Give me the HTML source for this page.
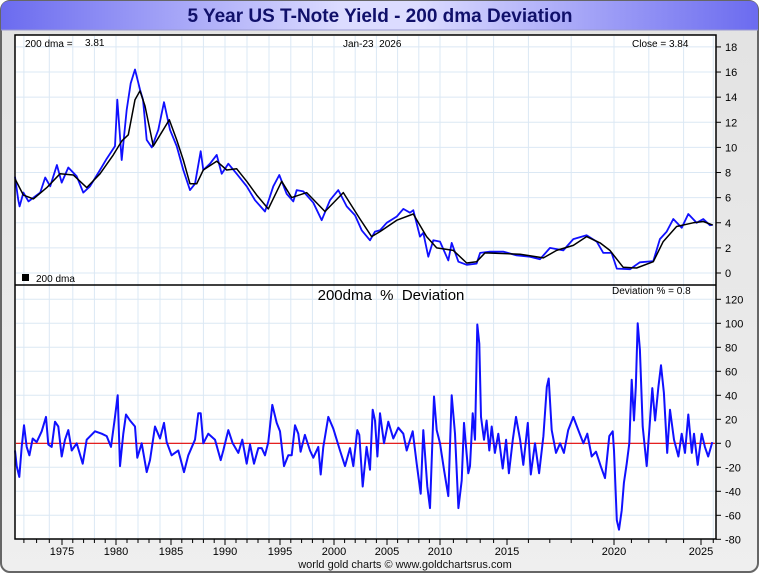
<!DOCTYPE html>
<html><head><meta charset="utf-8"><style>
body{margin:0;background:#fff;}
#wrap{position:relative;width:760px;height:575px;font-family:"Liberation Sans",sans-serif;}
svg text{font-family:"Liberation Sans",sans-serif;white-space:pre;}
</style></head><body>
<div id="wrap">
<svg id="chart" width="760" height="575" xmlns="http://www.w3.org/2000/svg">
<defs>
<linearGradient id="tg" x1="0" x2="1" y1="0" y2="0">
<stop offset="0" stop-color="#6b6bef"/><stop offset="0.45" stop-color="#dcdcff"/><stop offset="0.55" stop-color="#dcdcff"/><stop offset="1" stop-color="#6b6bef"/>
</linearGradient>
<linearGradient id="bg" x1="0" x2="0" y1="0" y2="1">
<stop offset="0" stop-color="#e2e2e2"/><stop offset="1" stop-color="#efefef"/>
</linearGradient>
</defs>
<rect x="1" y="1" width="757" height="571" rx="9" fill="url(#bg)" stroke="#666" stroke-width="2"/>
<path d="M1,30 L1,10 Q1,1 10,1 L749,1 Q758,1 758,10 L758,30 Z" fill="url(#tg)"/>
<line x1="1" y1="30" x2="758" y2="30" stroke="#9a9ad0" stroke-width="1"/>
<text x="380" y="22" text-anchor="middle" font-size="19" font-weight="bold" fill="#10106a">5 Year US T-Note Yield - 200 dma Deviation</text>
<rect x="15" y="35" width="701" height="504" fill="#fff"/>
<g id="grid"></g>
<g id="series"></g>
<rect x="15" y="35" width="701" height="504" fill="none" stroke="#000" stroke-width="1.5"/>
<line x1="15" y1="285" x2="716" y2="285" stroke="#000" stroke-width="1.5"/>
<g id="axes"></g>
<text x="25" y="47" font-size="10">200 dma =</text>
<text x="85" y="46" font-size="10">3.81</text>
<text x="343" y="47" font-size="10">Jan-23  2026</text>
<text x="632" y="47" font-size="10">Close = 3.84</text>
<rect x="22" y="274" width="7" height="7" fill="#000"/>
<text x="36" y="282" font-size="10">200 dma</text>
<text x="391" y="300" text-anchor="middle" font-size="15">200dma  %  Deviation</text>
<text x="612" y="294" font-size="10">Deviation % = 0.8</text>
<text x="405" y="568" text-anchor="middle" font-size="11" fill="#111">world gold charts © www.goldchartsrus.com</text>
</svg>
</div>
<script>
// ---- data ----
const yieldYears=[1971.30,1971.56,1971.66,1971.96,1972.36,1973.28,1973.68,1974.07,1974.60,1974.98,1975.58,1976.36,1976.97,1977.59,1978.52,1979.14,1979.91,1980.12,1980.52,1980.97,1981.34,1981.73,1982.18,1982.45,1982.79,1983.25,1983.85,1984.36,1984.91,1985.53,1986.14,1986.76,1987.22,1987.75,1987.99,1988.61,1989.23,1989.69,1990.30,1991.06,1991.97,1992.73,1993.64,1994.39,1994.94,1995.62,1996.23,1996.55,1997.16,1998.08,1998.86,1999.63,2000.41,2001.20,2001.98,2002.61,2003.40,2003.87,2004.34,2004.97,2005.92,2006.54,2007.17,2007.48,2008.11,2008.42,2008.90,2009.37,2010.00,2010.62,2010.87,2011.37,2011.99,2012.73,2012.99,2013.73,2014.72,2015.45,2016.07,2016.54,2017.01,2017.63,2018.10,2018.72,2019.19,2019.50,2019.89,2020.16,2020.92,2021.49,2022.26,2022.64,2023.03,2023.41,2023.89,2024.27,2024.75,2025.19,2025.73,2025.95];
const yieldValues=[7.67,5.8,5.3,6.4,5.7,6.4,7.6,6.9,8.6,7.2,8.4,7.7,6.4,6.9,8.2,9.1,10.1,13.8,9.0,13.0,15.1,16.2,14.6,13.8,10.6,10.0,11.4,13.6,11.4,10.1,8.2,6.6,7.1,9.7,8.2,8.7,9.4,7.9,8.7,7.9,6.9,5.8,4.9,6.9,7.8,6.3,5.7,6.6,6.5,5.6,4.2,5.8,6.6,5.3,4.6,3.4,2.6,3.3,3.4,4.0,4.5,5.1,4.8,5.0,2.9,3.2,1.3,2.6,2.5,1.0,2.4,0.9,0.65,0.75,1.6,1.7,1.7,1.4,1.3,1.1,2.0,1.8,2.7,3.0,2.5,1.6,1.6,0.35,0.3,0.85,0.95,2.7,3.3,4.3,3.6,4.7,4.0,4.3,3.8,3.84];
const dmaYears=[1971.30,1971.96,1972.75,1973.80,1974.84,1976.05,1977.29,1978.52,1979.75,1980.52,1981.12,1981.73,1982.18,1982.64,1983.39,1984.15,1984.85,1985.53,1986.14,1986.76,1987.38,1987.99,1989.23,1990.15,1991.06,1991.97,1992.88,1993.94,1995.16,1996.08,1997.47,1999.17,2000.88,2002.45,2003.55,2004.34,2005.92,2007.48,2008.74,2009.69,2010.99,2011.99,2012.73,2013.36,2015.61,2016.70,2017.32,2018.10,2018.72,2019.35,2019.81,2020.53,2021.30,2022.26,2022.83,2023.60,2024.55,2025.19,2025.95];
const dmaValues=[7.5,6.2,5.9,6.8,7.9,7.8,6.8,7.9,9.4,10.5,11.0,13.8,14.5,13.3,10.1,11.2,12.2,10.6,9.0,7.1,7.1,8.2,8.9,8.2,8.3,7.3,6.2,5.1,7.3,6.0,6.4,4.9,6.4,4.3,2.9,3.3,4.2,4.7,2.9,2.0,1.8,0.8,0.9,1.6,1.5,1.2,1.8,2.2,2.9,2.4,1.8,0.45,0.4,0.9,2.5,3.7,4.0,4.1,3.81];
const devYears=[1971.30,1971.43,1971.64,1971.83,1972.01,1972.22,1972.43,1972.69,1973.01,1973.40,1973.74,1973.92,1974.19,1974.45,1974.71,1974.98,1975.28,1975.58,1975.90,1976.36,1976.92,1977.29,1978.06,1978.68,1979.14,1979.54,1979.91,1980.15,1980.36,1980.66,1980.91,1981.27,1981.73,1981.94,1982.34,1982.79,1983.09,1983.55,1984.00,1984.36,1984.61,1985.06,1985.68,1986.20,1986.60,1987.22,1987.53,1987.75,1987.99,1988.45,1989.07,1989.60,1989.84,1990.30,1990.70,1991.21,1991.57,1991.97,1992.27,1992.64,1993.03,1993.34,1993.64,1993.94,1994.30,1994.70,1995.00,1995.37,1995.77,1996.08,1996.39,1996.69,1996.91,1997.31,1997.78,1998.08,1998.55,1998.77,1999.01,1999.47,1999.94,2000.57,2001.04,2001.51,2001.82,2002.20,2002.39,2002.71,2003.08,2003.40,2003.65,2003.87,2004.09,2004.34,2004.72,2005.12,2005.59,2006.07,2006.54,2006.86,2007.42,2007.80,2008.18,2008.42,2008.80,2009.06,2009.43,2009.69,2010.00,2010.30,2010.62,2010.87,2011.12,2011.37,2011.62,2011.79,2012.11,2012.24,2012.44,2012.61,2012.78,2012.93,2013.06,2013.28,2013.48,2013.68,2013.86,2014.10,2014.35,2014.68,2014.93,2015.09,2015.27,2015.42,2015.61,2015.76,2015.97,2016.11,2016.31,2016.50,2016.70,2016.86,2016.95,2017.09,2017.29,2017.48,2017.66,2017.86,2018.10,2018.33,2018.57,2018.75,2018.96,2019.16,2019.38,2019.58,2019.78,2019.94,2020.00,2020.16,2020.29,2020.44,2020.57,2020.73,2020.88,2021.02,2021.15,2021.25,2021.36,2021.49,2021.65,2021.88,2022.03,2022.20,2022.36,2022.55,2022.70,2022.87,2023.06,2023.22,2023.45,2023.70,2023.89,2024.08,2024.27,2024.47,2024.60,2024.81,2025.06,2025.32,2025.59,2025.92];
const devValues=[-6,-19,-28,-3,15,-3,-10,4,1,10,22,-1,-3,18,14,-11,3,11,-6,0,-17,3,10,8,6,-3,22,40,-19,8,24,19,14,-12,0,-24,-14,14,4,17,1,-10,-6,-24,-10,3,25,25,0,8,3,-14,-6,11,0,-8,3,-17,-1,-17,-4,-4,-10,1,32,17,10,-19,-10,-10,15,8,-7,7,-6,-12,-3,-26,-3,22,12,-6,-19,-4,-19,11,7,-36,-3,-22,28,19,-11,25,0,18,4,13,8,-6,10,-17,-42,11,-36,-54,39,11,0,-22,-44,40,8,-54,-31,17,-25,-19,25,3,99,83,22,3,19,-6,14,-8,8,-21,3,-25,3,22,3,-18,17,-26,0,-25,6,47,54,11,-8,0,-8,11,22,11,0,8,-11,-7,-19,-29,6,10,-6,-64,-72,-56,-33,-17,0,53,19,47,100,78,14,-19,11,46,19,47,65,42,-8,28,3,-11,8,-8,24,-8,8,-18,8,-3,-11,1];
const xTickLabels=[1975,1980,1985,1990,1995,2000,2005,2010,2015,2020,2025];
const yTicksTop=[0,2,4,6,8,10,12,14,16,18];
const yTicksBottom=[-80,-60,-40,-20,0,20,40,60,80,100,120];

// ---- scales ----
const xAnchorYears=[1971.3,1975,1980,1985,1990,1995,2000,2005,2010,2015,2020,2025,2026.06];
const xAnchorPx=[15,62,116,171,225,280,334,387,440,507,614,701,714];
function xs(yr){
  for(let i=0;i<xAnchorYears.length-1;i++){
    if(yr<=xAnchorYears[i+1]||i===xAnchorYears.length-2){
      const t=(yr-xAnchorYears[i])/(xAnchorYears[i+1]-xAnchorYears[i]);
      return xAnchorPx[i]+t*(xAnchorPx[i+1]-xAnchorPx[i]);
    }
  }
}
const yTop=v=>273-v*12.56;
const yBot=v=>443.3-v*1.2;

const NS="http://www.w3.org/2000/svg";
function mk(tag,attrs,parent){const e=document.createElementNS(NS,tag);for(const k in attrs)e.setAttribute(k,attrs[k]);parent.appendChild(e);return e;}
const grid=document.getElementById('grid'),series=document.getElementById('series'),axes=document.getElementById('axes');

for(let yr=1972;yr<=2026;yr+=2){const x=xs(yr);
  const g=mk('line',{x1:x,x2:x,y1:36,y2:538,stroke:'#dbe8f4','stroke-width':1},grid);
  
  }
yTicksTop.forEach(v=>{const y=yTop(v);
  const g=mk('line',{x1:16,x2:715,y1:y,y2:y,stroke:'#dbe8f4','stroke-width':1},grid);
  
  
  const t=mk('line',{x1:716,x2:721,y1:y,y2:y,stroke:'#000'},axes);
  
  
  const l=mk('text',{x:725,y:y+4,'font-size':11},axes);l.textContent=v;
  
  });
yTicksBottom.forEach(v=>{const y=yBot(v);
  if(v!==0){const g=mk('line',{x1:16,x2:715,y1:y,y2:y,stroke:'#dbe8f4','stroke-width':1},grid);
  
  }
  const t=mk('line',{x1:716,x2:721,y1:y,y2:y,stroke:'#000'},axes);
  
  
  const l=mk('text',{x:725,y:y+4,'font-size':11},axes);l.textContent=v;
  
  });
for(let yr=1972;yr<=2026;yr++){const x=xs(yr);const major=yr%5===0;
  const t=mk('line',{x1:x,x2:x,y1:539,y2:major?545:543,stroke:'#000'},axes);
  
  }
xTickLabels.forEach(yr=>{const l=mk('text',{x:xs(yr),y:555,'font-size':11,'text-anchor':'middle'},axes);l.textContent=yr;
  
  });

const z=mk('line',{x1:16,x2:715,y1:yBot(0),y2:yBot(0),stroke:'#e00000','stroke-width':1.2},series);



function pts(xa,ya,yf){return xa.map((d,i)=>xs(d).toFixed(1)+','+yf(ya[i]).toFixed(1)).join(' ');}
const yl=mk('polyline',{points:pts(yieldYears,yieldValues,yTop),fill:'none',stroke:'#1010ff','stroke-width':1.8,'stroke-linejoin':'round'},series);


const dl=mk('polyline',{points:pts(dmaYears,dmaValues,yTop),fill:'none',stroke:'#000','stroke-width':1.5,'stroke-linejoin':'round'},series);


const vl=mk('polyline',{points:pts(devYears,devValues,yBot),fill:'none',stroke:'#1010ff','stroke-width':2,'stroke-linejoin':'round'},series);


</script>
</body></html>
